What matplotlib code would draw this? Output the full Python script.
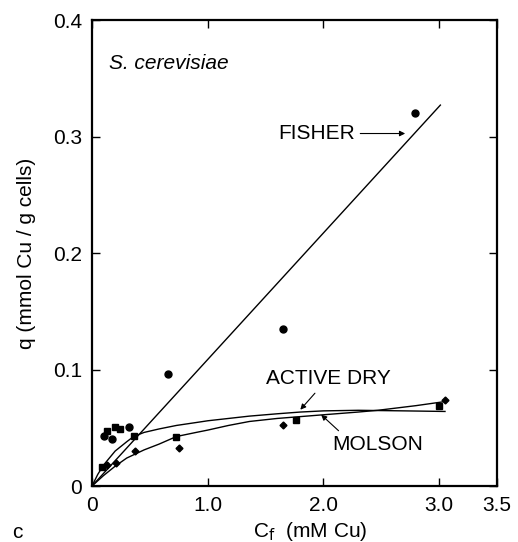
import matplotlib.pyplot as plt

plt.rcParams['font.family'] = ['Liberation Sans', 'DejaVu Sans']

fisher_x = [0.10, 0.17, 0.32, 0.66, 1.65, 2.79]
fisher_y = [0.043, 0.040, 0.051, 0.096, 0.135, 0.320]
active_x = [0.09, 0.13, 0.20, 0.24, 0.36, 0.73, 1.76, 3.00]
active_y = [0.016, 0.047, 0.051, 0.049, 0.043, 0.0425, 0.057, 0.069]
molson_x = [0.13, 0.21, 0.37, 0.75, 1.65, 3.05]
molson_y = [0.018, 0.0195, 0.030, 0.0325, 0.052, 0.074]

# fitted curves
fisher_fit_x = [0.0, 3.01]
fisher_fit_y = [0.0, 0.327]
active_fit_x = [0.0, 0.05, 0.1, 0.2, 0.3, 0.36, 0.45, 0.58, 0.73, 0.9, 1.0, 1.18, 1.36, 1.6, 1.8, 2.0, 2.3, 2.7, 3.05]
active_fit_y = [0.0, 0.010, 0.018, 0.030, 0.038, 0.0425, 0.046, 0.049, 0.052, 0.0545, 0.056, 0.058, 0.060, 0.062, 0.0635, 0.0645, 0.065, 0.0645, 0.064]
molson_fit_x = [0.0, 0.1, 0.2, 0.3, 0.45, 0.58, 0.73, 0.9, 1.0, 1.18, 1.36, 1.6, 1.98, 2.3, 2.47, 2.8, 3.05]
molson_fit_y = [0.0, 0.009, 0.017, 0.024, 0.031, 0.036, 0.0425, 0.046, 0.048, 0.052, 0.0554, 0.058, 0.061, 0.0635, 0.065, 0.069, 0.0725]

xticks = [0, 1.0, 2.0, 3.0, 3.5]
xtick_labels = ['0', '1.0', '2.0', '3.0', '3.5']
yticks = [0, 0.1, 0.2, 0.3, 0.4]
ytick_labels = ['0', '0.1', '0.2', '0.3', '0.4']

fs = 15

fig = plt.figure(figsize=(5.18, 5.42), dpi=100)
ax = fig.add_axes([0.1776, 0.1033, 0.782, 0.8597])

ax.plot(fisher_fit_x, fisher_fit_y, color='black', lw=1.0)
ax.plot(active_fit_x, active_fit_y, color='black', lw=1.0)
ax.plot(molson_fit_x, molson_fit_y, color='black', lw=1.0)

ax.plot(fisher_x, fisher_y, 'o', color='black', ms=5)
ax.plot(active_x, active_y, 's', color='black', ms=4.5)
ax.plot(molson_x, molson_y, 'D', color='black', ms=3.5)

ax.set_xlim(0, 3.5)
ax.set_ylim(0, 0.4)
ax.set_xticks(xticks)
ax.set_xticklabels(xtick_labels)
ax.set_yticks(yticks)
ax.set_yticklabels(ytick_labels)
ax.tick_params(direction='in', length=6, width=1.0, labelsize=fs,
               top=True, right=True, pad=7)
for s in ax.spines.values():
    s.set_linewidth(1.6)

ax.set_xlabel('C$_\\mathrm{f}$  (mM Cu)', fontsize=fs)
ax.xaxis.set_label_coords(0.538, -0.097)
ax.xaxis.label.set_va('center')
ax.set_ylabel('q (mmol Cu / g cells)', fontsize=fs)
ax.yaxis.set_label_coords(-0.161, 0.5)
ax.yaxis.label.set_va('center')

ax.text(0.15, 0.363, 'S. cerevisiae', style='italic', fontsize=fs, va='center')

ax.annotate('FISHER', xy=(2.73, 0.3026), xytext=(2.27, 0.3026),
            ha='right', va='center', fontsize=fs,
            arrowprops=dict(arrowstyle='-|>', color='black', lw=0.8, mutation_scale=8))
ax.annotate('ACTIVE DRY', xy=(1.80, 0.0655), xytext=(1.50, 0.092),
            ha='left', va='center', fontsize=fs,
            arrowprops=dict(arrowstyle='-|>', color='black', lw=0.8, mutation_scale=8,
                            relpos=(0.43, 0.0), shrinkA=2, shrinkB=0))
ax.annotate('MOLSON', xy=(1.98, 0.0612), xytext=(2.08, 0.0353),
            ha='left', va='center', fontsize=fs,
            arrowprops=dict(arrowstyle='-|>', color='black', lw=0.8, mutation_scale=8,
                            relpos=(0.12, 1.0), shrinkA=2, shrinkB=0))

fig.text(0.033, 0.017, 'c', fontsize=fs, ha='center', va='center')

fig.savefig('out.png', dpi=100)
